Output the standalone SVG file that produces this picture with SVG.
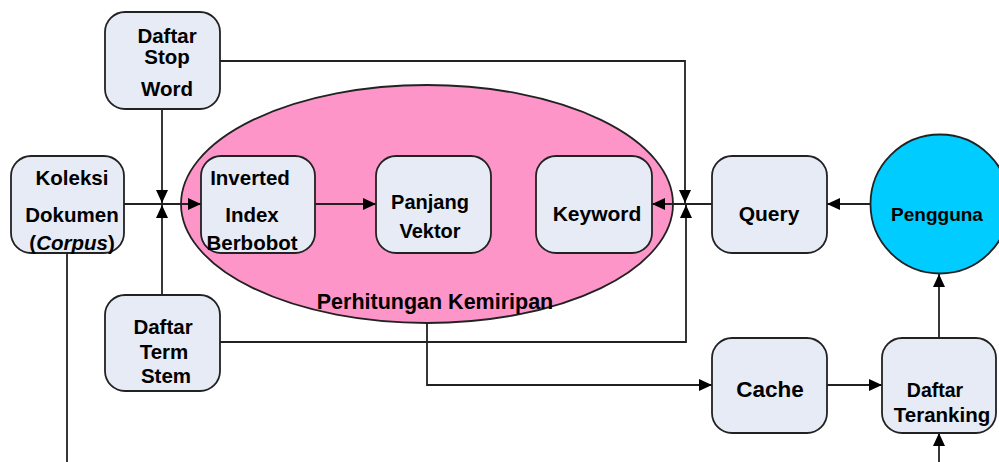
<svg xmlns="http://www.w3.org/2000/svg" width="999" height="462" viewBox="0 0 999 462">
  <style>
    .box { fill: #e6ebf5; stroke: #222; stroke-width: 1.8; }
    .lbl { font-family: "Liberation Sans", Arial, sans-serif; font-weight: bold; font-size: 20.5px; fill: #000; text-anchor: middle; }
    .wire { fill: none; stroke: #222; stroke-width: 1.8; }
    .arr { marker-end: url(#head); }
  </style>
  <defs>
    <marker id="head" markerUnits="userSpaceOnUse" markerWidth="14" markerHeight="12" refX="13" refY="6" orient="auto">
      <path d="M0,0 L13,6 L0,12 z" fill="#000"/>
    </marker>
  </defs>

  <rect width="999" height="462" fill="#fff"/>

  <!-- similarity computation region -->
  <g id="perhitungan">
    <ellipse cx="427" cy="204" rx="246" ry="119" fill="#fd95c8" stroke="#222" stroke-width="1.8"/>
  </g>

  <!-- connectors -->
  <g id="connectors">
    <path class="wire arr" d="M162,109 V203"/>
    <path class="wire arr" d="M162,295 V205"/>
    <path class="wire arr" d="M124,204 H201"/>
    <path class="wire arr" d="M315,204 H376"/>
    <path class="wire arr" d="M220,61 H685 V203"/>
    <path class="wire arr" d="M220,342 H686 V205"/>
    <path class="wire arr" d="M712,204 H652"/>
    <path class="wire arr" d="M871,204 H827"/>
    <path class="wire arr" d="M427,322 V385 H712"/>
    <path class="wire arr" d="M827,385 H882"/>
    <path class="wire arr" d="M939,338 V274"/>
    <path class="wire arr" d="M939,462 V433"/>
    <path class="wire" d="M67,253 V462"/>
  </g>

  <g id="stopword">
    <rect class="box" x="105" y="12" width="115" height="97" rx="20"/>
    <text class="lbl" x="167" y="43">Daftar</text>
    <text class="lbl" x="167" y="64">Stop</text>
    <text class="lbl" x="167" y="96">Word</text>
  </g>

  <g id="koleksi">
    <rect class="box" x="11" y="156" width="113" height="97" rx="20"/>
    <text class="lbl" x="72" y="185">Koleksi</text>
    <text class="lbl" x="72" y="222">Dokumen</text>
    <text class="lbl" x="72" y="250">(<tspan font-style="italic">Corpus</tspan>)</text>
  </g>

  <g id="inverted">
    <rect class="box" x="201" y="156" width="114" height="97" rx="20"/>
    <text class="lbl" x="250" y="185">Inverted</text>
    <text class="lbl" x="252" y="222">Index</text>
    <text class="lbl" x="252" y="250">Berbobot</text>
  </g>

  <g id="panjang">
    <rect class="box" x="376" y="156" width="115" height="97" rx="20"/>
    <text class="lbl" x="430" y="209" style="font-size:20px">Panjang</text>
    <text class="lbl" x="430" y="238" style="font-size:20px">Vektor</text>
  </g>

  <g id="keyword">
    <rect class="box" x="536" y="156" width="116" height="97" rx="20"/>
    <text class="lbl" x="597" y="221" style="font-size:21px">Keyword</text>
  </g>

  <g id="label-perhitungan">
    <text class="lbl" x="435" y="309" style="font-size:21.5px">Perhitungan Kemiripan</text>
  </g>

  <g id="termstem">
    <rect class="box" x="105" y="295" width="115" height="96" rx="20"/>
    <text class="lbl" x="163" y="334">Daftar</text>
    <text class="lbl" x="164" y="359">Term</text>
    <text class="lbl" x="166" y="383">Stem</text>
  </g>

  <g id="query">
    <rect class="box" x="712" y="156" width="115" height="97" rx="20"/>
    <text class="lbl" x="769" y="221" style="font-size:21px">Query</text>
  </g>

  <g id="pengguna">
    <circle cx="940" cy="204" r="69.5" fill="#00ccff" stroke="#222" stroke-width="1.8"/>
    <text class="lbl" x="937" y="221" style="font-size:19px">Pengguna</text>
  </g>

  <g id="cache">
    <rect class="box" x="712" y="338" width="115" height="95" rx="20"/>
    <text class="lbl" x="770" y="397" style="font-size:22.5px">Cache</text>
  </g>

  <g id="teranking">
    <rect class="box" x="882" y="338" width="114" height="95" rx="20"/>
    <text class="lbl" x="935" y="397" style="font-size:19.5px">Daftar</text>
    <text class="lbl" x="942" y="422">Teranking</text>
  </g>
</svg>
